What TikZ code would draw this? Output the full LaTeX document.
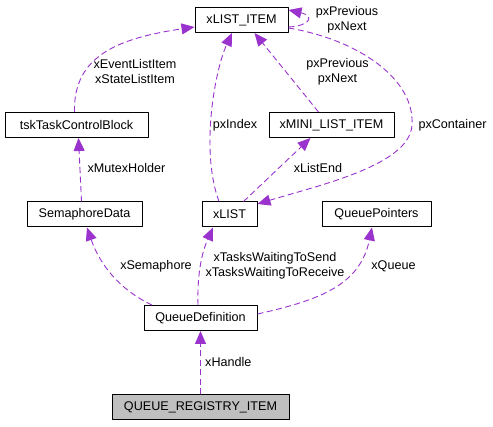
\documentclass[tikz,border=0pt]{standalone}
\usepackage{fontspec}
\setmainfont{Liberation Sans}
\usetikzlibrary{arrows.meta}
\definecolor{edgepurple}{HTML}{9A32CD}
\definecolor{regfill}{HTML}{BFBFBF}

\begin{document}
\begin{tikzpicture}[x=1pt, y=-1pt, line join=round, >=Triangle]
\tikzset{cls/.style={draw=black, line width=1pt, fill=white, minimum height=25pt, inner sep=0pt, font=\fontsize{12.6}{15}\selectfont},
  uses/.style={-{Triangle[length=13pt,width=11pt]}, draw=edgepurple, line width=0.9pt, dash pattern=on 6pt off 3.5pt},
  lbl/.style={inner sep=0pt, align=center, font=\fontsize{12.6}{15.5}\selectfont}}
\useasboundingbox (0,0) rectangle (493,427);

% classes (px)
\node[cls, minimum width=93pt]  (lit)  at (241.5,20)  {xLIST\_ITEM};
\node[cls, minimum width=143pt] (tcb)  at (76.5,125)  {tskTaskControlBlock};
\node[cls, minimum width=125pt] (mini) at (331.5,125) {xMINI\_LIST\_ITEM};
\node[cls, minimum width=115pt] (sd)   at (84.5,214.5) {SemaphoreData};
\node[cls, minimum width=55pt]  (xl)   at (229.5,214.5) {xLIST};
\node[cls, minimum width=109pt] (qp)   at (376.5,214.5) {QueuePointers};
\node[cls, minimum width=113pt] (qd)   at (200.5,318) {QueueDefinition};
\node[cls, minimum width=177pt, fill=regfill] (qri) at (200.5,407.5) {QUEUE\_REGISTRY\_ITEM};

% member edges
\draw[uses] ([xshift=-2pt]tcb.north) .. controls (73,55) and (120,38) .. ([yshift=-7pt]lit.west);
\draw[uses] ([yshift=-7pt]lit.east) .. controls (310,26) and (315,16) .. ([yshift=10pt]lit.east);
\draw[uses] ([xshift=-3pt]sd.north) -- ([xshift=2pt]tcb.south);
\draw[uses] ([xshift=-10.5pt]xl.north) .. controls (200,150) and (215,70) .. ([xshift=-9.5pt]lit.south);
\draw[uses] ([xshift=-13pt]mini.north) -- ([xshift=13pt]lit.south);
\draw[uses] ([xshift=14pt]xl.north) -- ([xshift=-21pt]mini.south);
\draw[uses] ([yshift=-8pt]lit.east) .. controls (360,40) and (415,80) .. (412,125)
  .. controls (410,165) and (320,185) .. ([yshift=10.5pt]xl.east);
\draw[uses] ([xshift=-48.5pt]qd.north) .. controls (120,290) and (100,265) .. ([xshift=2.5pt]sd.south);
\draw[uses] ([xshift=-2.5pt]qd.north) .. controls (197,270) and (203,250) .. ([xshift=-16.5pt]xl.south);
\draw[uses] ([yshift=4pt]qd.east) .. controls (320,300) and (360,285) .. ([xshift=-4.5pt]qp.south);
\draw[uses] (qri.north) -- (qd.south);

% edge labels
\node[lbl] (l1)  at (135,71.5)  {xEventListItem\\xStateListItem};
\node[lbl] (l2)  at (347,19.5)  {pxPrevious\\pxNext};
\node[lbl] (l3)  at (126.5,168) {xMutexHolder};
\node[lbl] (l4)  at (235,125)   {pxIndex};
\node[lbl] (l5)  at (337.5,71.5) {pxPrevious\\pxNext};
\node[lbl] (l6)  at (318,168)   {xListEnd};
\node[lbl] (l7)  at (452.5,125) {pxContainer};
\node[lbl] (l8)  at (156,266)   {xSemaphore};
\node[lbl] (l9)  at (275,265.5) {xTasksWaitingToSend\\xTasksWaitingToReceive};
\node[lbl] (l10) at (393.5,266) {xQueue};
\node[lbl, anchor=west] (l11) at (205,362) {xHandle};
\end{tikzpicture}
\end{document}
